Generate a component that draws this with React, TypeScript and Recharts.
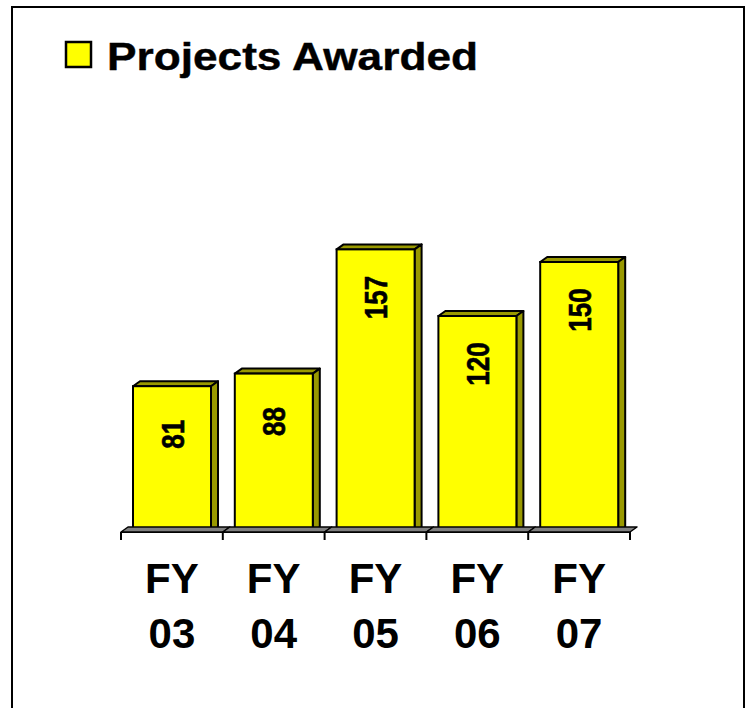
import React from 'react';
import { BarChart, Bar, XAxis, YAxis, Legend, LabelList } from 'recharts';

const categories = ['FY 03', 'FY 04', 'FY 05', 'FY 06', 'FY 07'];
const projectsAwarded = [81, 88, 157, 120, 150];
const seriesName = 'Projects Awarded';

const data = categories.map((c, i) => ({ category: c, value: projectsAwarded[i] }));

const FONT = '"Liberation Sans", Arial, Helvetica, sans-serif';
const FRONT = '#FFFF00';
const SIDE = '#999900';
const DX = 7;
const DY = 5;

const Bar3D = (props: any) => {
  const { x, y, width, height } = props;
  if (width == null || height == null) return null;
  return (
    <g>
      <polygon
        points={`${x},${y} ${x + DX},${y - DY} ${x + width + DX},${y - DY} ${x + width},${y}`}
        fill={SIDE}
        stroke="#000"
        strokeWidth={2}
        strokeLinejoin="round"
      />
      <polygon
        points={`${x + width},${y} ${x + width + DX},${y - DY} ${x + width + DX},${y + height - DY} ${x + width},${y + height}`}
        fill={SIDE}
        stroke="#000"
        strokeWidth={2}
        strokeLinejoin="round"
      />
      <rect x={x} y={y} width={width} height={height} fill={FRONT} stroke="#000" strokeWidth={2} />
    </g>
  );
};

const ValueLabel = (props: any) => {
  const { x, y, width, value } = props;
  const s = String(value);
  const cx = x + width / 2 + 11.5;
  const cy = y + 48;
  return (
    <g transform={`translate(${cx},${cy}) rotate(-90)`}>
      <text
        x={0}
        y={0}
        textAnchor="middle"
        fontFamily={FONT}
        fontWeight="bold"
        fontSize={32}
        fill="#000"
        stroke="#000"
        strokeWidth={0.6}
        textLength={s.length * 14.5}
        lengthAdjust="spacingAndGlyphs"
      >
        {s}
      </text>
    </g>
  );
};

const AxisTick = (props: any) => {
  const { x, y, payload, index, visibleTicksCount } = props;
  const half = payload && payload.offset ? payload.offset : 50.9;
  const parts = String(payload.value).split(' ');
  const isLast = index === (visibleTicksCount ?? categories.length) - 1;
  return (
    <g>
      <polygon
        points={`${x - half},${y} ${x + half},${y} ${x + half + DX},${y - DY} ${x - half + DX},${y - DY}`}
        fill="#808080"
        stroke="#000"
        strokeWidth={1.5}
        strokeLinejoin="round"
      />
      <line x1={x - half} y1={y} x2={x - half} y2={y + 8} stroke="#000" strokeWidth={2} />
      {isLast && <line x1={x + half} y1={y} x2={x + half} y2={y + 8} stroke="#000" strokeWidth={2} />}
      <text x={x} y={y + 61} textAnchor="middle" fontFamily={FONT} fontWeight="bold" fontSize={42} fill="#000">
        {parts[0]}
      </text>
      <text x={x} y={y + 116} textAnchor="middle" fontFamily={FONT} fontWeight="bold" fontSize={42} fill="#000">
        {parts[1]}
      </text>
    </g>
  );
};

const LegendContent = () => (
  <svg width={430} height={50} style={{ display: 'block', overflow: 'visible' }}>
    <rect x={1} y={1} width={25} height={25} fill={FRONT} stroke="#000" strokeWidth={2.5} />
    <text
      x={42}
      y={29}
      fontFamily={FONT}
      fontWeight="bold"
      fontSize={38}
      fill="#000"
      stroke="#000"
      strokeWidth={0.4}
      textLength={371}
      lengthAdjust="spacingAndGlyphs"
    >
      {seriesName}
    </text>
  </svg>
);

export default function App() {
  return (
    <div style={{ position: 'absolute', left: 0, top: 0, width: 750, height: 708, background: '#fff', overflow: 'hidden' }}>
      <div
        style={{
          position: 'absolute',
          left: 11,
          top: 6,
          width: 734,
          height: 760,
          border: '2px solid #000',
          boxSizing: 'border-box',
        }}
      />
      <div style={{ position: 'absolute', left: 0, top: 0 }}>
        <BarChart
          width={750}
          height={708}
          data={data}
          margin={{ top: 172, right: 120, bottom: 76, left: 121 }}
          barSize={78}
        >
          <XAxis
            dataKey="category"
            height={100}
            tickLine={false}
            tickSize={0}
            tickMargin={0}
            axisLine={{ stroke: '#000', strokeWidth: 2 }}
            tick={<AxisTick />}
            interval={0}
          />
          <YAxis hide domain={[0, 200]} />
          <Legend
            content={<LegendContent />}
            wrapperStyle={{ position: 'absolute', left: 65, top: 41, width: 0, height: 0, overflow: 'visible' }}
          />
          <Bar dataKey="value" name={seriesName} shape={<Bar3D />} isAnimationActive={false}>
            <LabelList dataKey="value" content={<ValueLabel />} />
          </Bar>
        </BarChart>
      </div>
    </div>
  );
}
